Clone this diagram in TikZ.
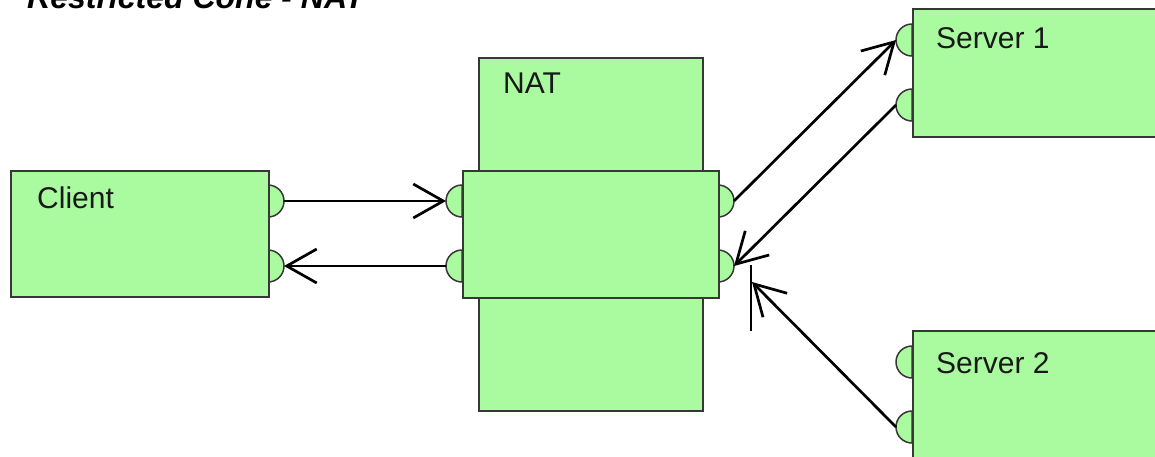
\documentclass[tikz,border=0pt]{standalone}
\usepackage{fontspec}
\setmainfont{Liberation Sans}
\usetikzlibrary{arrows.meta}
\definecolor{boxfill}{RGB}{170,250,160}
\definecolor{boxline}{RGB}{55,55,55}
\begin{document}
\begin{tikzpicture}[x=1pt,y=-1pt,
  box/.style={draw=boxline, fill=boxfill, line width=1.5pt, inner sep=0pt, anchor=north west},
  port/.style={draw=boxline, fill=boxfill, line width=1.5pt},
  conn/.style={line width=2.7pt, black, -{Straight Barb[length=30pt,width=34pt]}},
  plain/.style={line width=2.7pt, black},
  lbl/.style={font=\fontsize{30}{36}\selectfont, anchor=base west, inner sep=0pt, text=black!90},
  ttl/.style={font=\fontsize{32}{38}\selectfont\bfseries\itshape, anchor=base west, inner sep=0pt}]
\clip (0,0) rectangle (1155,456);
\fill[white] (0,0) rectangle (1155,456);

% ports (right-facing)
\foreach \x/\y in {268/201, 268/266, 718/201, 718/266}{
  \draw[port] (\x,\y-16) arc[start angle=-90, end angle=90, radius=16] -- cycle;
}
% ports (left-facing)
\foreach \x/\y in {462/201, 462/266, 912/40, 912/105, 912/362, 912/427}{
  \draw[port] (\x,\y-16) arc[start angle=-90, end angle=-270, radius=16] -- cycle;
}

% boxes
\node[box, minimum width=258pt, minimum height=126pt] (client) at (10,170) {};
\node[box, minimum width=224pt, minimum height=353pt] (nattall) at (478,57) {};
\node[box, minimum width=256pt, minimum height=127pt] (natwide) at (462,170) {};
\node[box, minimum width=260pt, minimum height=128pt] (server1) at (912,8) {};
\node[box, minimum width=260pt, minimum height=140pt] (server2) at (912,330) {};

% labels
\node[ttl] (title) at (27,8) {Restricted Cone - NAT};
\node[lbl] (clientlbl) at (37,208) {Client};
\node[lbl] (natlbl) at (503,93) {NAT};
\node[lbl] (s1lbl) at (936,48) {Server 1};
\node[lbl] (s2lbl) at (936,373) {Server 2};

% port tips
\coordinate (cp1) at (284,201);
\coordinate (cp2) at (284,266);
\coordinate (nl1) at (446,201);
\coordinate (nl2) at (446,266);
\coordinate (nr1) at (734,201);
\coordinate (nr2) at (734,266);
\coordinate (s1p1) at (896,40);
\coordinate (s1p2) at (896,105);
\coordinate (s2p2) at (896,427);
\coordinate (s2end) at (752,282);
\coordinate (vtop) at (751,265);
\coordinate (vbot) at (751,331);

% connectors
\draw[conn] (cp1) -- (nl1);
\draw[conn] (nl2) -- (cp2);
\draw[conn] (nr1) -- (s1p1);
\draw[conn] (s1p2) -- (nr2);
\draw[conn] (s2p2) -- (s2end);
\draw[plain] (vtop) -- (vbot);
\end{tikzpicture}
\end{document}
